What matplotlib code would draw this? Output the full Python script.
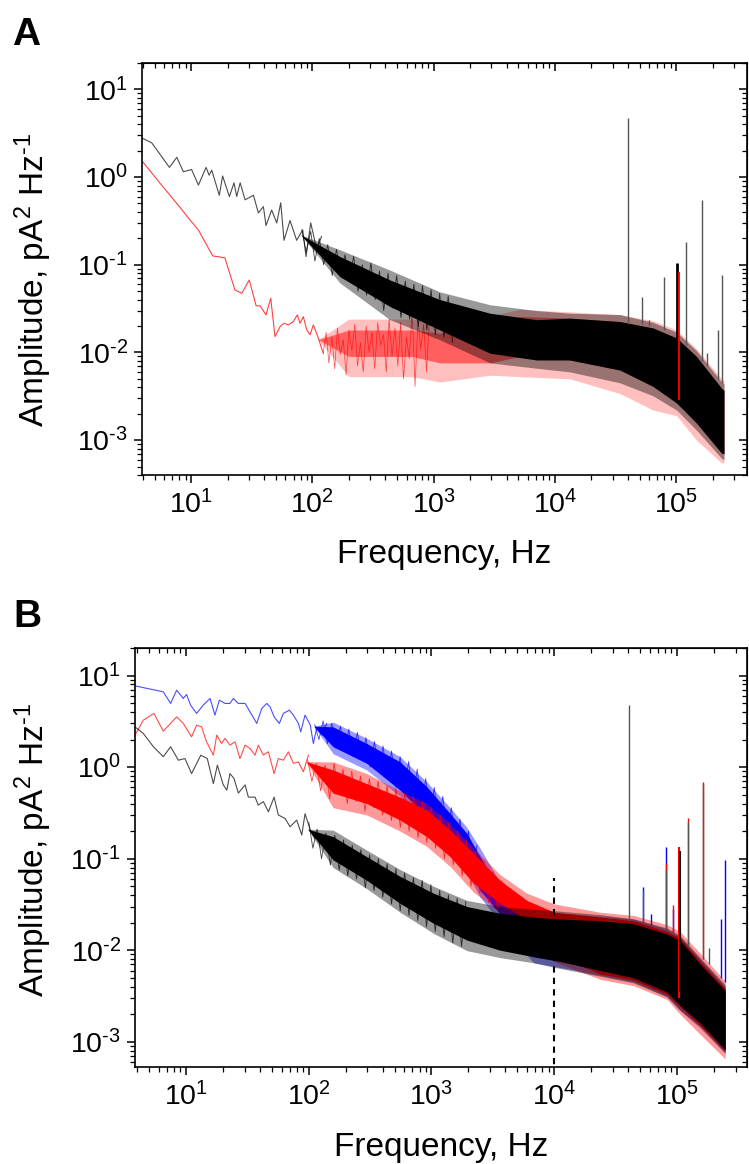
import numpy as np
import matplotlib
matplotlib.use("Agg")
import matplotlib.pyplot as plt
from matplotlib.ticker import LogLocator, NullFormatter, FixedLocator, FixedFormatter

plt.rcParams.update({
    "font.family": ["Liberation Sans", "DejaVu Sans"],
    "mathtext.fontset": "custom",
    "mathtext.rm": "Liberation Sans",
    "mathtext.it": "Liberation Sans:italic",
    "mathtext.bf": "Liberation Sans:bold",
    "mathtext.default": "regular",
})

# ---------------- tick labels ----------------
x_ticks = [1e1, 1e2, 1e3, 1e4, 1e5]
x_ticklabels = [r"$10^{1}$", r"$10^{2}$", r"$10^{3}$", r"$10^{4}$", r"$10^{5}$"]
y_ticks = [1e-3, 1e-2, 1e-1, 1e0, 1e1]
y_ticklabels = [r"$10^{\text{-}3}$", r"$10^{\text{-}2}$", r"$10^{\text{-}1}$", r"$10^{0}$", r"$10^{1}$"]

# ================= Panel A =================
# black trace, low-frequency part (Hz, pA^2/Hz)
A_blk_f = [4.0, 4.74, 6.63, 7.63, 8.64, 10.1, 11.5, 13.3, 14.1, 14.8, 17.1, 18.2, 20.7, 22.6,
           23.8, 25.4, 27.9, 32.7, 35.9, 39.5, 41.5, 46.2, 50.9, 54.9, 58.4, 65.5, 74.3, 83.3,
           88.7, 97.0, 109, 119]
A_blk_v = [2.76, 2.46, 1.29, 1.68, 1.15, 1.22, 0.81, 1.29, 1.05, 1.20, 0.62, 1.03, 0.60, 0.86,
           0.60, 0.86, 0.55, 0.62, 0.39, 0.46, 0.28, 0.42, 0.30, 0.51, 0.19, 0.32, 0.19, 0.25,
           0.124, 0.30, 0.148, 0.21]
# black trace, visible spikes in the transition region
A_blk_mid_f = [82, 89, 97, 105, 114, 124, 134, 146, 158, 172, 186, 202, 219, 238, 258, 280, 304,
               330, 358, 388, 421, 457, 496, 538, 584, 634, 688, 746, 810, 879, 953, 1034, 1122,
               1217, 1320, 1432]
A_blk_mid_v = [0.25, 0.14, 0.24, 0.11, 0.20, 0.10, 0.17, 0.075, 0.15, 0.08, 0.13, 0.065, 0.125,
               0.05, 0.10, 0.045, 0.105, 0.04, 0.085, 0.03, 0.080, 0.032, 0.075, 0.025, 0.065,
               0.024, 0.060, 0.020, 0.058, 0.018, 0.052, 0.016, 0.047, 0.015, 0.044, 0.013]
# black trace, dense noise band: dense core and sparse outer fringe
A_blk_band_f = [80, 169, 437, 1130, 2920, 7080, 13300, 34400, 64500, 101000, 147000, 237000, 248000]
A_blk_core_hi = [0.22, 0.124, 0.067, 0.040, 0.028, 0.0236, 0.0246, 0.0225, 0.019, 0.0146, 0.0090, 0.0039, 0.0037]
A_blk_core_lo = [0.22, 0.073, 0.0334, 0.018, 0.0098, 0.0082, 0.0082, 0.0063, 0.0041, 0.00265, 0.00157, 0.00071, 0.0007]
A_blk_fr_hi = [0.22, 0.148, 0.087, 0.049, 0.035, 0.030, 0.028, 0.027, 0.022, 0.017, 0.0105, 0.0046, 0.0044]
A_blk_fr_lo = [0.22, 0.062, 0.0236, 0.0139, 0.0076, 0.0066, 0.0060, 0.0045, 0.0032, 0.0022, 0.0013, 0.00062, 0.0006]

# red trace, low-frequency part
A_red_f = [4.0, 5.55, 7.63, 9.81, 11.5, 15.1, 16.5, 19.0, 23.0, 26.2, 30.2, 34.4, 37.1, 41.5,
           45.4, 49.2, 54.2, 58.4, 63.4, 69.7, 75.2, 79.2, 84.3, 89.9, 95.7, 102, 112, 123]
A_red_v = [1.49, 0.85, 0.50, 0.324, 0.249, 0.126, 0.124, 0.12, 0.0516, 0.0473, 0.067, 0.034,
           0.034, 0.0268, 0.0415, 0.0152, 0.0197, 0.0215, 0.0206, 0.0225, 0.0268, 0.0215, 0.0256,
           0.0181, 0.0159, 0.0206, 0.0146, 0.0098]
# red trace, sparse noisy part (individual visible spikes)
A_red_mid_f = [123, 130, 137, 145, 153, 161, 170, 180, 190, 200, 212, 224, 236, 249, 263, 278,
               294, 310, 327, 346, 365, 386, 407, 430, 454, 480, 507, 535, 565, 597, 630, 666,
               703, 743, 784, 828, 875, 924]
A_red_mid_v = [0.0098, 0.017, 0.0075, 0.015, 0.0065, 0.019, 0.0095, 0.014, 0.0055, 0.018, 0.0105,
               0.021, 0.0070, 0.013, 0.0060, 0.020, 0.0100, 0.017, 0.0065, 0.022, 0.0120, 0.016,
               0.0060, 0.024, 0.0090, 0.019, 0.0070, 0.022, 0.0050, 0.015, 0.0085, 0.030, 0.0041,
               0.023, 0.0110, 0.021, 0.0060, 0.026]
# red trace, noise band
A_red_band_f = [112, 200, 660, 1130, 2920, 5150, 13300, 34400, 64500, 101000, 147000, 237000, 248000]
A_red_core_hi = [0.014, 0.018, 0.018, 0.0166, 0.020, 0.0257, 0.0246, 0.0225, 0.019, 0.0146, 0.0090, 0.0039, 0.0037]
A_red_core_lo = [0.014, 0.0090, 0.0090, 0.0076, 0.0076, 0.0090, 0.0082, 0.0063, 0.0041, 0.00265, 0.00157, 0.00071, 0.0007]
A_red_fr_hi = [0.014, 0.024, 0.024, 0.0236, 0.026, 0.031, 0.029, 0.027, 0.023, 0.018, 0.011, 0.005, 0.0048]
A_red_fr_lo = [0.014, 0.0053, 0.0053, 0.0046, 0.0055, 0.0053, 0.0050, 0.0034, 0.0022, 0.0019, 0.0010, 0.00055, 0.00055]

# spikes (frequency, base, top)
A_spk_f = [39800, 52000, 60000, 79000, 120000, 162000, 178000, 222000, 240000]
A_spk_lo = [0.021, 0.021, 0.020, 0.018, 0.012, 0.008, 0.007, 0.005, 0.0045]
A_spk_hi = [4.7, 0.043, 0.0236, 0.072, 0.18, 0.55, 0.0098, 0.018, 0.076]
# 100 kHz feature (black, red)
A_feat_f = [102000, 105000]
A_feat_lo = [0.0040, 0.0029]
A_feat_hi = [0.105, 0.083]

# ================= Panel B =================
B_blu_f = [3.84, 6.53, 7.49, 8.39, 9.5, 10.1, 10.9, 12.2, 13.8, 15.7, 17.2, 18.7, 20.8, 22.8,
           24.3, 26.7, 30.3, 33.2, 37.7, 41.4, 45.5, 48.4, 52.2, 57.6, 62.1, 69.5, 74.9, 82.3,
           86.0, 93.3, 103, 109, 116, 128, 140]
B_blu_v = [7.72, 6.64, 4.96, 6.93, 5.62, 6.22, 4.75, 3.86, 4.75, 5.62, 3.70, 5.39, 4.96, 4.96,
           5.62, 4.96, 4.96, 4.02, 3.0, 4.37, 4.96, 4.55, 3.54, 3.0, 3.86, 4.19, 3.70, 3.0,
           2.43, 3.70, 2.87, 1.81, 2.65, 2.24, 3.0]
B_blu_mid_f = [112, 121, 131, 142, 154, 167, 181, 196, 212, 230, 249, 270, 292, 317, 343, 372,
               403, 436, 473, 512, 555, 601, 651, 706, 765, 828, 898, 973, 1054, 1142, 1237,
               1340, 1452, 1573, 1705, 1847, 2001, 2168, 2349]
B_blu_mid_v = [2.9, 2.0, 3.2, 1.8, 3.0, 1.6, 2.8, 1.5, 2.6, 1.3, 2.4, 1.2, 2.1, 1.0, 1.9, 0.9,
               1.7, 0.75, 1.5, 0.6, 1.3, 0.55, 1.15, 0.45, 0.95, 0.38, 0.75, 0.30, 0.60, 0.24,
               0.48, 0.18, 0.36, 0.14, 0.27, 0.09, 0.20, 0.065, 0.14]
B_blu_band_f = [110, 158, 297, 555, 916, 1420, 1940, 2490, 3620, 6760, 13300, 44200, 82800,
                106000, 155000, 247000]
B_blu_core_hi = [2.8, 2.75, 1.81, 1.14, 0.61, 0.31, 0.189, 0.105, 0.045, 0.022, 0.022, 0.020,
                 0.0155, 0.013, 0.0072, 0.0037]
B_blu_core_lo = [2.8, 1.67, 1.10, 0.56, 0.286, 0.16, 0.082, 0.045, 0.025, 0.0085, 0.0072, 0.0050,
                 0.0034, 0.0025, 0.0016, 0.0008]
B_blu_fr_hi = [2.8, 3.1, 2.06, 1.3, 0.69, 0.36, 0.22, 0.13, 0.055, 0.026, 0.025, 0.022, 0.017,
               0.014, 0.008, 0.004]
B_blu_fr_lo = [2.8, 1.4, 0.93, 0.48, 0.24, 0.13, 0.07, 0.038, 0.020, 0.0073, 0.0062, 0.0045,
               0.0031, 0.0022, 0.0014, 0.00075]

B_red_f = [3.84, 4.49, 5.48, 6.53, 8.39, 9.5, 11.1, 12.2, 13.4, 14.7, 16.7, 17.8, 19.5, 20.8,
           22.8, 25.1, 27.5, 30.3, 33.2, 36.5, 38.8, 42.7, 46.9, 52.2, 56.5, 62.1, 68.2, 74.9,
           82.3, 90.4, 99.4]
B_red_v = [2.24, 3.26, 3.86, 2.47, 3.54, 3.0, 2.14, 2.87, 2.75, 1.89, 1.35, 2.24, 1.81, 2.06,
           1.74, 1.89, 1.24, 1.74, 1.6, 1.35, 1.74, 1.35, 1.47, 0.85, 1.24, 1.19, 1.47, 1.10,
           1.14, 0.89, 1.35]
B_red_mid_f = [98, 106, 115, 125, 136, 148, 161, 175, 190, 206, 224, 243, 264, 287, 312, 339,
               368, 400, 435, 472, 513, 557, 605, 658, 714, 776, 843, 916, 995, 1081, 1175, 1276,
               1387, 1506, 1636, 1778, 1931, 2098, 2280, 2476, 2690, 2923, 3175, 3450, 3748]
B_red_mid_v = [1.2, 0.7, 1.1, 0.55, 1.05, 0.45, 1.1, 0.5, 0.95, 0.40, 0.90, 0.42, 0.80, 0.33,
               0.75, 0.36, 0.70, 0.30, 0.62, 0.26, 0.58, 0.22, 0.52, 0.20, 0.48, 0.17, 0.42, 0.15,
               0.36, 0.13, 0.30, 0.10, 0.25, 0.085, 0.20, 0.065, 0.16, 0.050, 0.12, 0.042, 0.095,
               0.033, 0.072, 0.027, 0.058]
B_red_band_f = [95, 158, 297, 555, 916, 1420, 2200, 3620, 5980, 10000, 23700, 44200, 82800,
                106000, 155000, 247000]
B_red_core_hi = [1.15, 0.93, 0.66, 0.47, 0.34, 0.205, 0.114, 0.058, 0.035, 0.026, 0.023, 0.021,
                 0.016, 0.0135, 0.0075, 0.0038]
B_red_core_lo = [1.15, 0.52, 0.40, 0.264, 0.174, 0.105, 0.054, 0.0325, 0.0214, 0.009, 0.0055,
                 0.0047, 0.0033, 0.0024, 0.0015, 0.0008]
B_red_fr_hi = [1.15, 1.14, 0.85, 0.55, 0.40, 0.24, 0.13, 0.067, 0.042, 0.032, 0.026, 0.024,
               0.019, 0.016, 0.0092, 0.0046]
B_red_fr_lo = [1.15, 0.36, 0.30, 0.20, 0.136, 0.082, 0.043, 0.026, 0.016, 0.0075, 0.0048,
               0.0041, 0.0029, 0.0020, 0.0012, 0.00065]

B_blk_f = [3.84, 4.49, 5.42, 6.53, 7.49, 8.66, 9.8, 11.1, 13.2, 14.9, 16.7, 18.0, 20.1, 21.5,
           22.8, 24.6, 26.7, 30.3, 32.2, 36.5, 38.8, 42.7, 46.9, 52.2, 56.5, 64.1, 70.4, 79.8,
           87.7, 93.3, 103, 112]
B_blk_v = [2.75, 2.33, 1.67, 1.30, 1.67, 1.19, 1.24, 0.85, 1.35, 1.24, 0.66, 1.05, 0.64, 0.56,
           0.85, 0.75, 0.52, 0.64, 0.47, 0.47, 0.385, 0.42, 0.325, 0.47, 0.30, 0.275, 0.223,
           0.264, 0.181, 0.31, 0.205, 0.167]
B_blk_mid_f = [100, 108, 117, 127, 138, 150, 163, 177, 192, 208, 226, 245, 266, 289, 313, 340,
               369, 401, 435, 472, 513, 556, 604, 656, 712, 773, 839, 911, 989, 1073, 1165, 1265,
               1373, 1491, 1618, 1757, 1907]
B_blk_mid_v = [0.25, 0.13, 0.21, 0.10, 0.19, 0.085, 0.18, 0.075, 0.16, 0.065, 0.14, 0.06, 0.125,
               0.048, 0.11, 0.045, 0.10, 0.038, 0.088, 0.032, 0.078, 0.027, 0.07, 0.024, 0.062,
               0.021, 0.058, 0.018, 0.052, 0.016, 0.045, 0.014, 0.040, 0.012, 0.037, 0.011, 0.034]
B_blk_band_f = [98, 158, 297, 555, 1037, 1940, 3620, 6760, 10000, 23700, 44200, 82800, 106000,
                155000, 247000]
B_blk_core_hi = [0.21, 0.174, 0.105, 0.064, 0.042, 0.030, 0.0253, 0.023, 0.022, 0.021, 0.0195,
                 0.015, 0.0128, 0.0070, 0.0036]
B_blk_core_lo = [0.21, 0.097, 0.058, 0.0325, 0.0197, 0.0129, 0.010, 0.0085, 0.0078, 0.0060,
                 0.0050, 0.0035, 0.0025, 0.0016, 0.00082]
B_blk_fr_hi = [0.21, 0.205, 0.124, 0.076, 0.050, 0.035, 0.030, 0.028, 0.027, 0.0245, 0.022,
               0.0175, 0.0145, 0.0082, 0.0042]
B_blk_fr_lo = [0.21, 0.08, 0.047, 0.026, 0.0153, 0.0099, 0.0083, 0.0073, 0.0065, 0.0052,
               0.0044, 0.0031, 0.0022, 0.00146, 0.00075]

B_blk_spk_f = [40500, 53000, 81000, 124000, 164000, 184000]
B_blk_spk_lo = [0.021, 0.020, 0.017, 0.011, 0.008, 0.007]
B_blk_spk_hi = [4.75, 0.045, 0.075, 0.25, 0.66, 0.0105]
B_red_spk_f = [81000, 92000, 124000, 164000]
B_red_spk_lo = [0.017, 0.016, 0.011, 0.008]
B_red_spk_hi = [0.09, 0.031, 0.275, 0.69]
B_blu_spk_f = [53000, 61000, 81000, 92000, 228000, 247000]
B_blu_spk_lo = [0.020, 0.019, 0.017, 0.016, 0.005, 0.0045]
B_blu_spk_hi = [0.049, 0.025, 0.135, 0.028, 0.022, 0.097]
B_feat_f = [104000, 106000]
B_feat_lo = [0.0030, 0.0035]
B_feat_hi = [0.135, 0.12]

B_dash_f = 1e4
B_dash_top = 0.061

# ---------------- figure ----------------
fig = plt.figure(figsize=(7.49, 11.64), dpi=100)
axA = fig.add_axes([142 / 749, 1 - 475 / 1164, 605 / 749, 412 / 1164])
axB = fig.add_axes([135 / 749, 1 - 1067 / 1164, 612 / 749, 419 / 1164])

BLK, RED, BLU = "#000000", "#ff0000", "#0000ff"


def band(ax, f, flo, fhi, clo, chi, color, z, fa=0.4, ca=1.0):
    ax.fill_between(f, flo, fhi, color=color, alpha=fa, lw=0, zorder=z)
    ax.fill_between(f, clo, chi, color=color, alpha=ca, lw=0, zorder=z + 0.1)


def style(ax, xlim, ylim):
    ax.set_xscale("log")
    ax.set_yscale("log")
    ax.set_xlim(*xlim)
    ax.set_ylim(*ylim)
    for s in ax.spines.values():
        s.set_linewidth(1.2)
        s.set_zorder(10)
    ax.xaxis.set_major_locator(FixedLocator(x_ticks))
    ax.xaxis.set_major_formatter(FixedFormatter(x_ticklabels))
    ax.yaxis.set_major_locator(FixedLocator(y_ticks))
    ax.yaxis.set_major_formatter(FixedFormatter(y_ticklabels))
    ax.xaxis.set_minor_locator(LogLocator(base=10, subs=np.arange(2, 10), numticks=30))
    ax.yaxis.set_minor_locator(LogLocator(base=10, subs=np.arange(2, 10), numticks=30))
    ax.xaxis.set_minor_formatter(NullFormatter())
    ax.yaxis.set_minor_formatter(NullFormatter())
    ax.tick_params(which="major", direction="out", length=6, width=1.1, labelsize=20.5, pad=4)
    ax.tick_params(which="minor", direction="out", length=3.5, width=0.9)
    ax.tick_params(axis="x", which="major", pad=5)
    top = ax.secondary_xaxis("top")
    top.xaxis.set_major_locator(FixedLocator(x_ticks))
    top.xaxis.set_minor_locator(LogLocator(base=10, subs=np.arange(2, 10), numticks=30))
    top.tick_params(which="major", direction="in", length=6, width=1.1, labeltop=False)
    top.tick_params(which="minor", direction="in", length=3.5, width=0.9)
    top.xaxis.set_minor_formatter(NullFormatter())
    right = ax.secondary_yaxis("right")
    right.yaxis.set_major_locator(FixedLocator(y_ticks))
    right.yaxis.set_minor_locator(LogLocator(base=10, subs=np.arange(2, 10), numticks=30))
    right.tick_params(which="major", direction="in", length=6, width=1.1, labelright=False)
    right.tick_params(which="minor", direction="in", length=3.5, width=0.9)
    right.yaxis.set_minor_formatter(NullFormatter())
    ax.set_xlabel("Frequency, Hz", fontsize=24)
    ax.set_ylabel(r"Amplitude, pA$^{2}$ Hz$^{\text{-}1}$", fontsize=24)


# ---- Panel A ----
band(axA, A_red_band_f, A_red_fr_lo, A_red_fr_hi, A_red_core_lo, A_red_core_hi, RED, 2, fa=0.25, ca=0.5)
axA.plot(A_red_f, A_red_v, color=RED, lw=0.8, alpha=0.75, zorder=2.5)
axA.plot(A_red_mid_f, A_red_mid_v, color=RED, lw=0.5, alpha=0.7, zorder=2.5)
band(axA, A_blk_band_f, A_blk_fr_lo, A_blk_fr_hi, A_blk_core_lo, A_blk_core_hi, BLK, 3, fa=0.4)
axA.plot(A_blk_mid_f, A_blk_mid_v, color=BLK, lw=0.6, alpha=0.75, zorder=3.5)
axA.plot(A_blk_f, A_blk_v, color=BLK, lw=0.8, alpha=0.7, zorder=3.5)
axA.vlines(A_spk_f, A_spk_lo, A_spk_hi, color="#555555", lw=1.0, zorder=3.5)
axA.vlines(A_feat_f[0], A_feat_lo[0], A_feat_hi[0], color=BLK, lw=2.0, zorder=4)
axA.vlines(A_feat_f[1], A_feat_lo[1], A_feat_hi[1], color=RED, lw=1.3, zorder=4)
style(axA, (3.94, 3.84e5), (4.0e-4, 20))
axA.xaxis.set_label_coords(0.5, -0.155)
axA.yaxis.set_label_coords(-0.145, 0.473)

# ---- Panel B ----
band(axB, B_blu_band_f, B_blu_fr_lo, B_blu_fr_hi, B_blu_core_lo, B_blu_core_hi, BLU, 2, fa=0.4)
axB.plot(B_blu_mid_f, B_blu_mid_v, color=BLU, lw=0.6, alpha=0.75, zorder=2.5)
axB.plot(B_blu_f, B_blu_v, color=BLU, lw=0.8, alpha=0.7, zorder=2.5)
axB.vlines(B_blu_spk_f, B_blu_spk_lo, B_blu_spk_hi, color=BLU, lw=1.0, zorder=2.5)
band(axB, B_red_band_f, B_red_fr_lo, B_red_fr_hi, B_red_core_lo, B_red_core_hi, RED, 3, fa=0.4)
axB.plot(B_red_mid_f, B_red_mid_v, color=RED, lw=0.6, alpha=0.75, zorder=3.5)
axB.plot(B_red_f, B_red_v, color=RED, lw=0.8, alpha=0.7, zorder=3.5)
axB.vlines(B_red_spk_f, B_red_spk_lo, B_red_spk_hi, color=RED, lw=1.0, zorder=3.5)
band(axB, B_blk_band_f, B_blk_fr_lo, B_blk_fr_hi, B_blk_core_lo, B_blk_core_hi, BLK, 4, fa=0.4)
axB.plot(B_blk_mid_f, B_blk_mid_v, color=BLK, lw=0.6, alpha=0.75, zorder=4.5)
axB.plot(B_blk_f, B_blk_v, color=BLK, lw=0.8, alpha=0.7, zorder=4.5)
axB.vlines(B_blk_spk_f, B_blk_spk_lo, B_blk_spk_hi, color="#555555", lw=1.0, zorder=4.5)
axB.vlines(B_feat_f, B_feat_lo, B_feat_hi, color=[RED, BLK], lw=1.5, zorder=5)
axB.vlines(B_dash_f, 1e-4, B_dash_top, color=BLK, lw=1.5, linestyles=(0, (3, 2.5)), zorder=5)
style(axB, (3.84, 3.72e5), (5.3e-4, 20))
axB.xaxis.set_label_coords(0.5, -0.155)
axB.yaxis.set_label_coords(-0.132, 0.518)

fig.text(12 / 749, 1 - 45 / 1164, "A", fontsize=28, fontweight="bold", ha="left", va="baseline")
fig.text(13 / 749, 1 - 627 / 1164, "B", fontsize=28, fontweight="bold", ha="left", va="baseline")

fig.savefig("out.png", dpi=100)
